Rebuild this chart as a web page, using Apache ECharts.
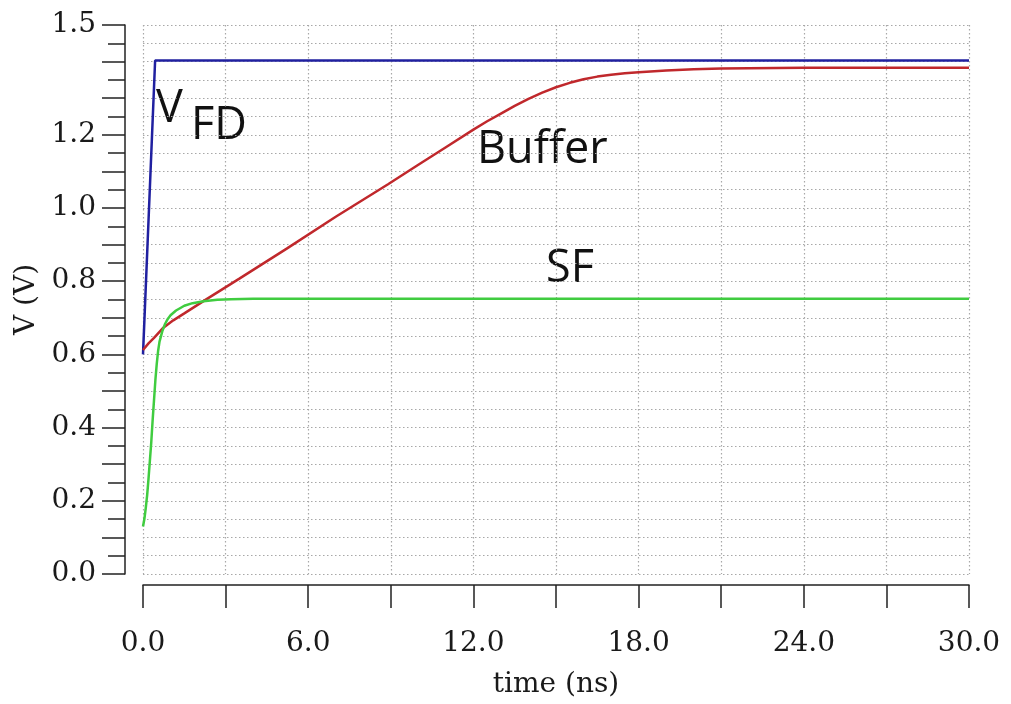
<!DOCTYPE html>
<html>
<head>
<meta charset="utf-8">
<script src="https://cdn.jsdelivr.net/npm/echarts@6/dist/echarts.min.js"></script>
<style>
  html, body { margin: 0; padding: 0; background: #fff; }
  #chart { width: 1011px; height: 704px; }
</style>
</head>
<body>
<div id="chart"></div>
<script>
// Waveforms: [time (ns), V]
const vfdPoints = [[0, 0.6], [0.44, 1.403], [30, 1.403]];
const bufferPoints = [
    [0, 0.612], [0.2, 0.63], [0.4, 0.645], [0.74, 0.673], [1.1, 0.693],
    [1.5, 0.712], [2.31, 0.751], [3.5, 0.807], [5.22, 0.889], [7, 0.976],
    [8.9, 1.065], [10, 1.118], [11, 1.166], [12, 1.214], [12.5, 1.237],
    [13, 1.258], [13.5, 1.279], [14, 1.298], [14.5, 1.315], [15, 1.33],
    [15.5, 1.342], [16, 1.352], [16.5, 1.359], [17, 1.364], [17.5, 1.368],
    [18, 1.371], [19, 1.376], [20, 1.379], [21, 1.381], [22, 1.382],
    [24, 1.383], [30, 1.383]
];
const sfPoints = [
    [0, 0.13], [0.05, 0.15], [0.1, 0.18], [0.15, 0.215], [0.2, 0.26],
    [0.25, 0.31], [0.3, 0.36], [0.35, 0.42], [0.4, 0.475], [0.45, 0.53],
    [0.5, 0.575], [0.55, 0.61], [0.6, 0.635], [0.7, 0.663], [0.8, 0.683],
    [0.9, 0.697], [1.0, 0.707], [1.2, 0.72], [1.5, 0.733], [1.8, 0.74],
    [2.2, 0.745], [2.7, 0.749], [3.2, 0.751], [4, 0.752], [30, 0.752]
];
const xLabelStep = 6;
const yLabelValues = [0, 0.2, 0.4, 0.6, 0.8, 1.0, 1.2, 1.5];

const chart = echarts.init(document.getElementById('chart'));

const axisFont = { fontFamily: 'DejaVu Serif', fontSize: 28, color: '#1a1a1a' };
const dotted = { color: '#a8a8a8', width: 1.2, type: [1.5, 2.5] };
const noteFont = '45px "Open Sans"';

const option = {
    animation: false,
    grid: { left: 143, right: 42, top: 25, bottom: 127 },
    xAxis: {
        type: 'value',
        min: 0,
        max: 30,
        interval: 3,
        offset: 11,
        name: 'time (ns)',
        nameLocation: 'middle',
        nameGap: 86,
        nameTextStyle: axisFont,
        axisLine: { onZero: false, lineStyle: { color: '#222', width: 1.5 } },
        axisTick: { length: 23, lineStyle: { color: '#222', width: 1.5 } },
        axisLabel: {
            ...axisFont,
            margin: 45,
            formatter: v => (Math.round(v) % xLabelStep === 0 ? v.toFixed(1) : '')
        },
        splitLine: { show: true, lineStyle: dotted }
    },
    yAxis: {
        type: 'value',
        min: 0,
        max: 1.5,
        interval: 0.1,
        offset: 18,
        name: 'V (V)',
        nameLocation: 'middle',
        nameGap: 84,
        nameTextStyle: axisFont,
        axisLine: { show: true, onZero: false, lineStyle: { color: '#222', width: 1.5 } },
        axisTick: { show: true, length: 23, lineStyle: { color: '#222', width: 1.5 } },
        minorTick: { show: true, splitNumber: 2, length: 17, lineStyle: { color: '#222', width: 1.5 } },
        axisLabel: {
            ...axisFont,
            margin: 29,
            formatter: v => {
                const r = Math.round(v * 100) / 100;
                return yLabelValues.some(l => Math.abs(l - r) < 1e-6) ? r.toFixed(1) : '';
            }
        },
        splitLine: { show: true, lineStyle: dotted },
        minorSplitLine: { show: true, lineStyle: dotted }
    },
    series: [
        {
            name: 'VFD',
            type: 'line',
            data: vfdPoints,
            showSymbol: false,
            lineStyle: { color: '#2020a0', width: 2.5 }
        },
        {
            name: 'Buffer',
            type: 'line',
            data: bufferPoints,
            showSymbol: false,
            lineStyle: { color: '#c0282c', width: 2.5 }
        },
        {
            name: 'SF',
            type: 'line',
            data: sfPoints,
            showSymbol: false,
            lineStyle: { color: '#40cc40', width: 2.5 }
        }
    ],
    graphic: [
        { type: 'text', left: 156, top: 87, style: { text: 'V', font: noteFont, fill: '#111' } },
        { type: 'text', left: 191, top: 104, style: { text: 'FD', font: noteFont, fill: '#111' } },
        { type: 'text', left: 477, top: 128, style: { text: 'Buffer', font: noteFont, fill: '#111' } },
        { type: 'text', left: 546, top: 247, style: { text: 'SF', font: noteFont, fill: '#111' } }
    ]
};

chart.setOption(option);
</script>
</body>
</html>
